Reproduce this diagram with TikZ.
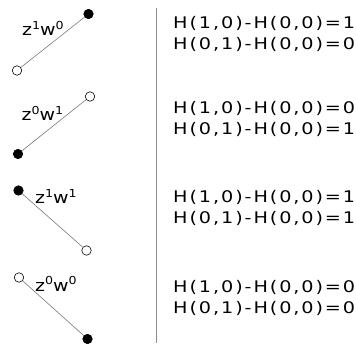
\documentclass[tikz,border=0pt]{standalone}
\usepackage{fontspec}
\setmainfont{DejaVu Sans}
\newfontfamily\hfont[FakeStretch=1.2, LetterSpace=12]{DejaVu Sans}
\newfontfamily\hlfont[FakeStretch=1.15, LetterSpace=6]{DejaVu Sans}
\usetikzlibrary{positioning}
\definecolor{hLink}{HTML}{7A7A7A}
\definecolor{hRule}{HTML}{8C8C8C}
\newcommand{\hexp}[1]{\raisebox{6.5pt}{\fontsize{11}{11}\selectfont #1}}
\tikzset{
  hdot/.style={circle, draw=black, line width=0.6pt, minimum size=9.5pt, inner sep=0pt},
  hfull/.style={hdot, fill=black},
  hopen/.style={hdot, fill=white},
  hlink/.style={draw=hLink, line width=0.6pt},
  hrule/.style={draw=hRule, line width=1pt},
  hlabel/.style={font=\hlfont\fontsize{16.5}{16.5}\selectfont, inner sep=0pt, anchor=base west},
  hdiff/.style={font=\hfont\fontsize{16}{21}\selectfont, align=left, inner sep=0pt, anchor=base west}
}
\begin{document}
\begin{tikzpicture}[x=1pt, y=-1pt]
  \useasboundingbox (0,0) rectangle (356,347);
  \node[hfull] (a1) at (88.5,14) {};
  \node[hopen] (b1) at (17,70.5) {};
  \draw[hlink] (b1) -- (a1);
  \node[hlabel] (l1) at (22,36) {z\hexp{1}w\hexp{0}};
  \node[hopen] (a2) at (90,96.5) {};
  \node[hfull] (b2) at (18,154) {};
  \draw[hlink] (b2) -- (a2);
  \node[hlabel] (l2) at (21.5,121) {z\hexp{0}w\hexp{1}};
  \node[hfull] (a3) at (18.5,190.5) {};
  \node[hopen] (b3) at (86.5,250.5) {};
  \draw[hlink] (a3) -- (b3);
  \node[hlabel] (l3) at (35,204) {z\hexp{1}w\hexp{1}};
  \node[hopen] (a4) at (19,277.5) {};
  \node[hfull] (b4) at (87.5,339) {};
  \draw[hlink] (a4) -- (b4);
  \node[hlabel] (l4) at (35,291) {z\hexp{0}w\hexp{0}};
  \coordinate (rtop) at (156,8);
  \coordinate (rbot) at (156,343);
  \draw[hrule] (rtop) -- (rbot);
  \node[hdiff] (d1) at (173,49.5) {H(1,0)-H(0,0)=1\\H(0,1)-H(0,0)=0};
  \node[hdiff] (d2) at (173,134.5) {H(1,0)-H(0,0)=0\\H(0,1)-H(0,0)=1};
  \node[hdiff] (d3) at (173,223.5) {H(1,0)-H(0,0)=1\\H(0,1)-H(0,0)=1};
  \node[hdiff] (d4) at (173,313.5) {H(1,0)-H(0,0)=0\\H(0,1)-H(0,0)=0};
\end{tikzpicture}
\end{document}
